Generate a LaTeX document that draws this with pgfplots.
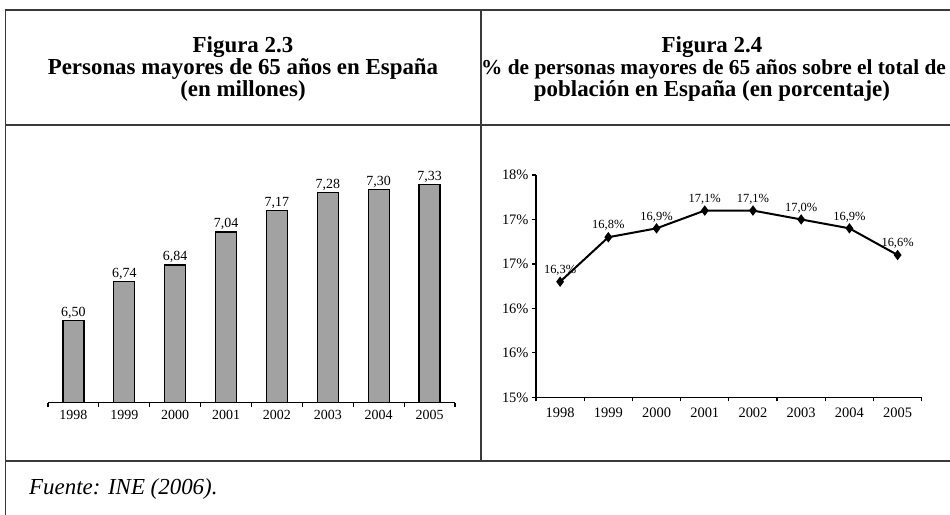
\documentclass[border=0pt]{standalone}
\usepackage{fontspec}
\setmainfont{Liberation Serif}
\usepackage{pgfplots}
\pgfplotsset{compat=1.18}

\definecolor{rulegray}{HTML}{3A3A3A}
\definecolor{barfill}{HTML}{A2A2A2}

\newcommand\titlefont{\fontsize{23}{25}\selectfont\bfseries}

\begin{document}
\begin{tikzpicture}[x=1bp,y=1bp]
\clip (0,0) rectangle (950,515);

% table rules
\begin{scope}[draw=rulegray, line width=1.4bp]
  \draw (5.5,0) -- (5.5,505) -- (950,505);
  \draw (5.5,390) -- (950,390);
  \draw (5.5,54) -- (950,54);
  \draw (481,505) -- (481,54);
\end{scope}

% titles
\node[anchor=base, font=\titlefont] at (243,462) {Figura 2.3};
\node[anchor=base, font=\titlefont] at (243,440) {Personas mayores de 65 años en España};
\node[anchor=base, font=\titlefont] at (243,418) {(en millones)};

\node[anchor=base, font=\titlefont] at (712,462) {Figura 2.4};
\node[anchor=base west, font=\fontsize{21.4}{25}\selectfont\bfseries, inner sep=0pt] at (481,440) {\% de personas mayores de 65 años sobre el total de};
\node[anchor=base, font=\titlefont] at (712,418) {población en España (en porcentaje)};

% source
\node[anchor=base west, font=\fontsize{23}{26}\selectfont\itshape, inner sep=0pt] at (29,20) {Fuente: INE (2006).};

% Figura 2.3: bars
\begin{axis}[
  at={(48bp,112.3bp)}, anchor=south west,
  scale only axis, width=407bp, height=246bp,
  xmin=-0.5, xmax=7.5, ymin=6, ymax=7.5,
  axis x line=bottom, axis y line=none,
  axis line style={-, line width=1.5bp, black},
  ybar, bar width=21bp,
  xtick={0,...,7},
  xticklabels={1998,1999,2000,2001,2002,2003,2004,2005},
  major x tick style={draw=none},
  minor xtick={-0.5,0.5,...,7.5},
  minor tick length=4bp, tick align=outside,
  minor x tick style={black, line width=1.2bp},
  xticklabel style={font=\fontsize{14}{16}\selectfont},
  nodes near coords,
  every node near coord/.append style={
    font=\fontsize{14}{16}\selectfont, inner sep=1.5bp,
    /pgf/number format/.cd, fixed, fixed zerofill, precision=2,
    use comma, assume math mode=true},
]
\addplot[fill=barfill, draw=black, line width=1.3bp]
  coordinates {(0,6.50) (1,6.74) (2,6.84) (3,7.04) (4,7.17) (5,7.28) (6,7.30) (7,7.33)};
\end{axis}

% Figura 2.4: line
\begin{axis}[
  at={(536bp,117.7bp)}, anchor=south west,
  scale only axis, width=385.7bp, height=222.3bp,
  xmin=-0.5, xmax=7.5, ymin=15, ymax=17.5,
  clip=false,
  axis x line=bottom, axis y line=left,
  axis line style={-, line width=1.5bp, black},
  xtick={0,...,7},
  xticklabels={1998,1999,2000,2001,2002,2003,2004,2005},
  major x tick style={draw=none},
  minor xtick={-0.5,0.5,...,7.5},
  ytick={15,15.5,16,16.5,17,17.5},
  yticklabels={15\%,16\%,16\%,17\%,17\%,18\%},
  tick align=outside, major tick length=4bp, minor tick length=4bp,
  every tick/.style={black, line width=1.2bp},
  xticklabel style={font=\fontsize{14.5}{16}\selectfont, yshift=-3bp},
  yticklabel style={font=\fontsize{14.5}{16}\selectfont},
]
\addplot[black, line width=2bp, mark=diamond*, mark size=3.6bp,
  nodes near coords={\pgfmathprintnumber[fixed,fixed zerofill,precision=1,use comma,assume math mode=true]{\pgfplotspointmeta}\%},
  every node near coord/.append style={font=\fontsize{12.5}{14}\selectfont, yshift=2bp}]
  coordinates {(0,16.3) (1,16.8) (2,16.9) (3,17.1) (4,17.1) (5,17.0) (6,16.9) (7,16.6)};
\end{axis}
\end{tikzpicture}
\end{document}
